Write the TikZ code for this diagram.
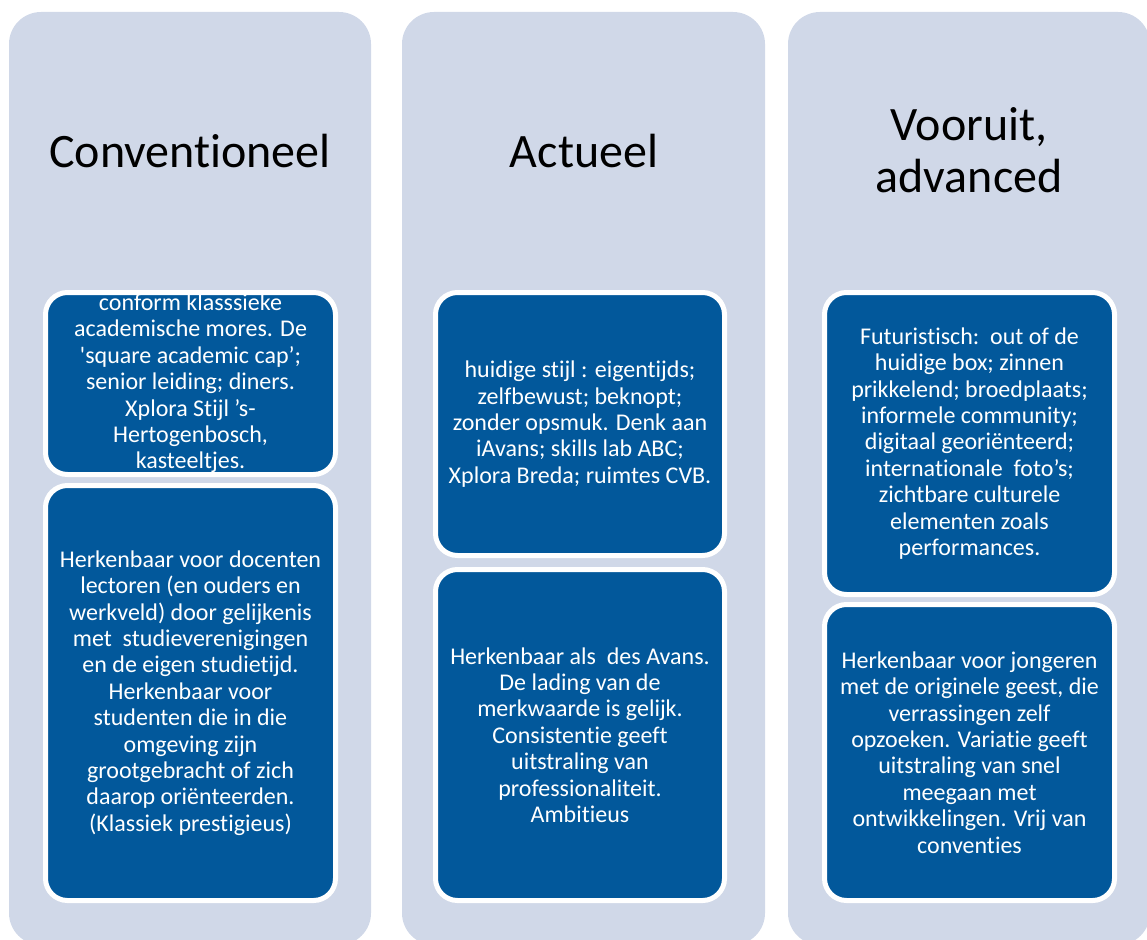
\documentclass[tikz,border=0pt]{standalone}
\usepackage{fontspec}
\setmainfont{Carlito}[Ligatures=TeXOff, RawFeature={-liga;-clig;-calt;-dlig}]
\definecolor{panelbg}{HTML}{D0D8E8}
\definecolor{boxblue}{HTML}{02589B}
\begin{document}
\begin{tikzpicture}[x=1pt,y=-1pt,
  panel/.style={fill=panelbg, draw=none, rounded corners=32pt},
  card/.style={draw=white, line width=5pt, fill=boxblue, rounded corners=22pt,
               inner sep=0pt, minimum width=290pt},
  cardtext/.style={text=white, align=center, inner sep=0pt,
                   font=\fontsize{24}{26.4}\selectfont},
  heading/.style={text=black, align=center, inner sep=0pt, anchor=base,
                  font=\fontsize{48}{52}\selectfont}]
\useasboundingbox (0,0) rectangle (1147,939);
\clip (0,0) rectangle (1147,939);

% three column panels
\fill[panel] (9,12) rectangle (371,945);
\fill[panel] (402,12) rectangle (765,945);
\fill[panel] (788,12) rectangle (1150,945);

% headings (base anchor sits on the last line)
\node[heading] (h1) at (190,167) {Conventioneel};
\node[heading] (h2) at (584,167) {Actueel};
\node[heading] (h3) at (969,192) {Vooruit,\\advanced};

% column 1
\node[card, minimum height=182pt] (c1a) at (190.5,383.5) {};
\node[cardtext] (t1a) at (c1a.center) {conform klasssieke\\academische mores. De\\'square academic cap’;\\senior leiding; diners.\\Xplora Stijl ’s-\\Hertogenbosch,\\kasteeltjes.};
\node[card, minimum height=415pt] (c1b) at (190.5,693) {};
\node[cardtext] (t1b) at (c1b.center) {Herkenbaar voor docenten\\lectoren (en ouders en\\werkveld) door gelijkenis\\met\ \ studieverenigingen\\en de eigen studietijd.\\Herkenbaar voor\\studenten die in die\\omgeving zijn\\grootgebracht of zich\\daarop oriënteerden.\\(Klassiek prestigieus)};

% column 2
\node[card, minimum width=289pt, minimum height=263pt] (c2a) at (580,424) {};
\node[cardtext] (t2a) at (c2a.center) {huidige stijl : eigentijds;\\zelfbewust; beknopt;\\zonder opsmuk. Denk aan\\iAvans; skills lab ABC;\\Xplora Breda; ruimtes CVB.};
\node[card, minimum width=289pt, minimum height=331pt] (c2b) at (580,735) {};
\node[cardtext] (t2b) at (c2b.center) {Herkenbaar als\ \ des Avans.\\De lading van de\\merkwaarde is gelijk.\\Consistentie geeft\\uitstraling van\\professionaliteit.\\Ambitieus};

% column 3
\node[card, minimum height=302pt] (c3a) at (969.5,443.5) {};
\node[cardtext] (t3a) at (c3a.center) {Futuristisch:\ \ out of de\\huidige box; zinnen\\prikkelend; broedplaats;\\informele community;\\digitaal georiënteerd;\\internationale\ \ foto’s;\\zichtbare culturele\\elementen zoals\\performances.};
\node[card, minimum height=296pt] (c3b) at (969.5,752.5) {};
\node[cardtext] (t3b) at (c3b.center) {Herkenbaar voor jongeren\\met de originele geest, die\\verrassingen zelf\\opzoeken. Variatie geeft\\uitstraling van snel\\meegaan met\\ontwikkelingen. Vrij van\\conventies};
\end{tikzpicture}
\end{document}
